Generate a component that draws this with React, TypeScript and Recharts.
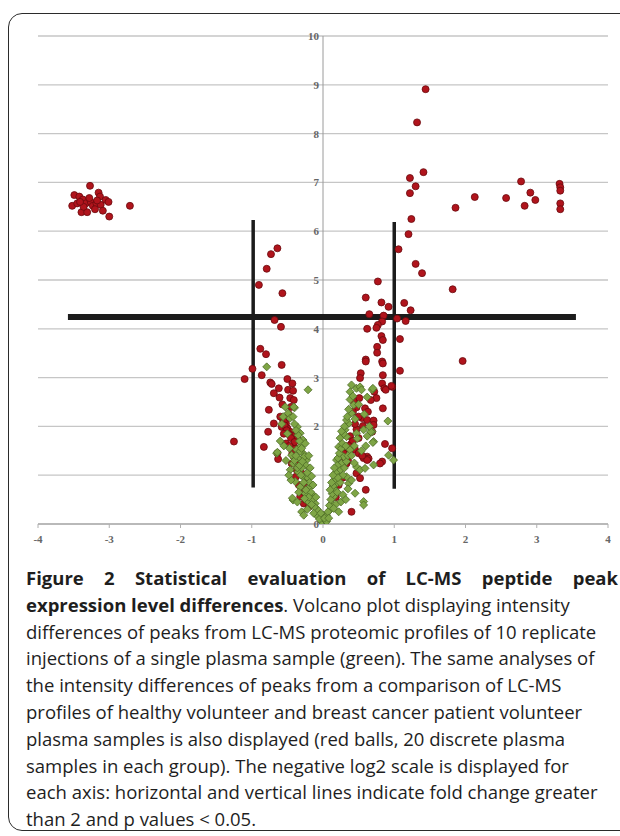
import React from 'react';
import { ScatterChart, Scatter, XAxis, YAxis, CartesianGrid, ReferenceLine } from 'recharts';

// ---------- data ----------
const xTicks = [-4, -3, -2, -1, 0, 1, 2, 3, 4];
const yTicks = [0, 1, 2, 3, 4, 5, 6, 7, 8, 9, 10];
// labels visible on the y axis (the "1" is hidden under the points in the original)
const yLabelTicks = [0, 2, 3, 4, 5, 6, 7, 8, 9, 10];
const xDomain: [number, number] = [-4, 4];
const yDomain: [number, number] = [0, 10];

// fold-change cutoffs (vertical lines) and p-value cutoff (horizontal line)
const foldCutoffs: { x: number; y1: number; y2: number }[] = [
  { x: -0.98, y1: 0.75, y2: 6.23 },
  { x: 1.0, y1: 0.72, y2: 6.19 },
];
const pCutoff = { y: 4.24, x1: -3.58, x2: 3.55 };

// healthy vs breast cancer (red balls): [log2 fold change, -log2 p]
const redBalls: [number, number][] = [
  [1.44, 8.91], [1.32, 8.23], [1.41, 7.21], [1.22, 7.09], [1.30, 6.92], [1.22, 6.78], [1.24, 6.25], [1.20, 5.94],
  [1.06, 5.63], [1.30, 5.33], [1.39, 5.14], [1.86, 6.48], [2.13, 6.70], [2.57, 6.68], [2.78, 7.02], [2.91, 6.79],
  [2.83, 6.52], [2.98, 6.64], [3.32, 6.97], [3.33, 6.90], [3.33, 6.83], [3.33, 6.57], [3.33, 6.45], [1.82, 4.81],
  [1.96, 3.34],
  [-2.71, 6.52], [-3.27, 6.93], [-3.49, 6.74], [-3.42, 6.71], [-3.37, 6.65], [-3.15, 6.79], [-3.13, 6.71],
  [-3.05, 6.64], [-3.01, 6.60], [-3.52, 6.52], [-3.45, 6.57], [-3.33, 6.57], [-3.26, 6.60], [-3.23, 6.52],
  [-3.18, 6.57], [-3.12, 6.54], [-3.39, 6.39], [-3.31, 6.39], [-3.20, 6.45], [-3.09, 6.42], [-3.00, 6.30],
  [-3.36, 6.50], [-3.17, 6.63], [-3.28, 6.68], [-3.41, 6.60],
  [-0.64, 5.65], [-0.73, 5.53], [-0.79, 5.23], [-0.90, 4.90], [-0.57, 4.73], [-0.68, 4.18], [-0.59, 4.04],
  [0.77, 4.97], [0.60, 4.64], [0.82, 4.54], [0.92, 4.45], [1.14, 4.53], [1.23, 4.38], [0.65, 4.30], [0.85, 4.27],
  [0.83, 4.15], [1.16, 4.16], [1.04, 4.21], [0.77, 4.08], [0.75, 4.02], [0.62, 4.00], [0.82, 3.85], [1.08, 3.79],
  [-0.88, 3.59], [-0.80, 3.48], [-0.99, 3.18], [-1.10, 2.97], [-0.86, 3.05], [-0.58, 3.26], [-0.50, 2.97],
  [-0.43, 2.88], [-0.74, 2.90], [-0.72, 2.87], [-0.62, 2.78], [-0.69, 2.68], [-0.61, 2.59], [-0.49, 2.75],
  [-0.42, 2.73], [-0.46, 2.58], [-0.41, 2.54], [-0.76, 2.34], [-0.56, 2.13], [-0.52, 2.06], [-0.50, 1.96],
  [-0.46, 1.89], [-0.42, 1.80], [-0.36, 1.74], [-0.58, 1.99], [-0.69, 2.06], [-0.77, 1.89], [-0.83, 1.58],
  [-1.25, 1.69], [-0.64, 1.45], [-0.63, 1.33], [-0.52, 1.65], [-0.39, 1.55], [-0.44, 1.24], [-0.37, 1.11],
  [-0.38, 0.97], [-0.30, 1.04], [-0.34, 0.80], [-0.28, 0.76], [-0.32, 0.56], [-0.27, 0.42], [-0.23, 0.87],
  [-0.55, 2.10], [-0.54, 2.02], [-0.51, 1.92], [-0.48, 1.84], [-0.45, 1.76], [-0.40, 1.68], [-0.55, 1.85],
  [-0.47, 1.60], [-0.43, 1.45], [-0.41, 1.38], [-0.35, 1.25], [-0.33, 1.15], [-0.26, 0.65], [-0.24, 0.50],
  [-0.20, 0.35], [-0.60, 2.20], [-0.48, 2.25], [-0.45, 2.40], [-0.57, 2.45],
  [1.08, 3.14], [0.84, 3.77], [0.76, 3.63], [0.76, 3.51], [0.83, 3.33], [0.84, 3.29], [0.60, 3.37], [0.60, 3.33],
  [0.53, 3.09], [0.52, 2.99], [0.84, 3.05], [0.83, 2.88], [0.97, 2.81], [0.86, 2.78], [0.88, 2.75], [0.72, 2.71],
  [0.75, 2.58], [0.67, 2.54], [0.51, 2.58], [0.43, 2.51], [0.47, 2.39], [0.59, 2.37], [0.63, 2.30], [0.55, 2.17],
  [0.62, 2.13], [0.84, 2.37], [0.71, 2.12], [0.71, 2.03], [0.56, 2.01], [0.47, 1.94], [0.69, 1.89], [0.50, 1.76],
  [0.40, 1.65], [0.33, 1.55], [0.45, 1.52], [0.29, 1.45], [0.62, 1.38], [0.57, 1.35], [0.64, 1.34], [0.83, 1.28],
  [0.80, 1.24], [0.97, 1.55], [0.47, 1.04], [0.52, 0.94], [0.40, 0.25], [0.62, 1.31], [0.33, 1.24], [0.87, 1.64],
  [0.96, 2.83], [0.38, 1.80], [0.42, 1.70], [0.36, 1.60], [0.30, 1.35], [0.26, 1.20], [0.50, 1.45], [0.55, 1.40],
  [0.45, 2.05], [0.50, 2.20], [0.42, 2.30], [0.35, 1.30], [0.28, 0.95], [0.22, 0.80], [0.60, 0.70], [0.18, 0.55],
];

// replicate injections of one plasma sample (green diamonds)
const greenDiamonds: [number, number][] = [
  [-0.79, 3.22], [-0.21, 2.75], [-0.53, 2.40], [-0.40, 2.38], [-0.49, 2.27], [-0.46, 2.17], [-0.36, 1.99],
  [-0.32, 1.86], [-0.28, 1.72], [-0.25, 1.65], [-0.32, 1.58], [-0.37, 1.52], [-0.44, 1.41], [-0.65, 1.45],
  [-0.28, 1.45], [-0.35, 1.35], [-0.23, 1.31], [-0.42, 1.24], [-0.46, 1.11], [-0.35, 1.07], [-0.28, 0.97],
  [-0.21, 0.94], [-0.39, 0.87], [-0.32, 0.76], [-0.18, 0.76], [-0.25, 0.63], [-0.14, 0.59], [-0.42, 0.49],
  [-0.21, 0.46], [-0.11, 0.42], [-0.30, 0.25], [-0.09, 0.25], [-0.07, 0.15], [-0.02, 0.05], [0.03, 0.08],
  [0.00, 0.18], [0.05, 0.18], [0.10, 0.29], [0.12, 0.42], [0.15, 0.56], [0.17, 0.70], [0.19, 0.83], [0.22, 0.97],
  [0.24, 1.11], [0.26, 1.24], [0.19, 1.31], [0.33, 1.28], [0.29, 1.38], [0.22, 1.58], [0.24, 1.76], [0.33, 1.79],
  [0.31, 1.93], [0.36, 2.06], [0.33, 2.13], [0.40, 2.27], [0.43, 2.44], [0.38, 2.71], [0.40, 2.85], [0.47, 2.78],
  [0.52, 2.81], [0.54, 2.75], [0.69, 2.75], [0.33, 0.97], [0.36, 0.83], [0.45, 0.63], [0.57, 0.46], [0.47, 1.17],
  [0.52, 1.11], [0.59, 1.14], [0.71, 1.69], [0.69, 1.89], [0.57, 1.93], [0.47, 1.86], [0.91, 2.11], [0.92, 1.41],
  [0.99, 1.31], [0.71, 1.21], [-0.64, 1.47], [-0.32, 1.49], [-0.56, 2.20], [-0.42, 2.20], [-0.41, 2.40],
  [0.70, 2.78], [0.67, 1.89], [0.70, 1.67], [0.57, 0.39], [-0.43, 0.53],
  [-0.05, 0.10], [-0.08, 0.30], [-0.12, 0.35], [-0.15, 0.50], [-0.17, 0.65], [-0.19, 0.85], [-0.22, 1.05],
  [-0.24, 1.20], [-0.26, 1.38], [-0.30, 1.55], [-0.33, 1.70], [-0.35, 1.82], [-0.38, 1.92], [-0.40, 2.05],
  [-0.30, 1.15], [-0.27, 0.85], [-0.24, 0.70], [-0.20, 0.55], [-0.16, 0.40], [-0.13, 0.22], [-0.36, 1.15],
  [-0.40, 1.30], [-0.31, 1.00], [-0.26, 0.52], [-0.34, 0.65], [-0.45, 0.90], [-0.48, 1.00], [-0.38, 1.40],
  [-0.33, 1.20], [-0.29, 1.28], [-0.50, 1.85], [-0.55, 1.60], [-0.60, 1.70], [-0.47, 1.55], [-0.52, 1.30],
  [-0.58, 2.05], [-0.16, 0.98], [-0.14, 0.80], [-0.18, 1.15], [-0.20, 1.40], [-0.10, 0.55], [-0.22, 0.30],
  [-0.27, 0.18], [-0.36, 0.45],
  [0.07, 0.25], [0.09, 0.38], [0.11, 0.50], [0.13, 0.62], [0.14, 0.78], [0.16, 0.90], [0.18, 1.05], [0.20, 1.20],
  [0.21, 1.35], [0.23, 1.45], [0.26, 1.55], [0.27, 1.65], [0.29, 1.85], [0.30, 2.00], [0.34, 2.20], [0.36, 2.35],
  [0.38, 2.55], [0.42, 2.62], [0.20, 0.65], [0.24, 0.85], [0.28, 1.00], [0.30, 1.15], [0.35, 1.40], [0.38, 1.52],
  [0.40, 1.40], [0.28, 0.60], [0.25, 0.45], [0.18, 0.40], [0.15, 0.32], [0.21, 0.95], [0.32, 1.60], [0.44, 1.60],
  [0.48, 1.75], [0.26, 1.90], [0.45, 2.15], [0.50, 2.45], [0.35, 0.72], [0.40, 0.90], [0.44, 1.25], [0.54, 1.50],
  [0.60, 1.60], [0.62, 1.80], [0.65, 2.00], [0.58, 2.25], [0.62, 2.60], [0.05, 0.05], [0.02, 0.12], [-0.03, 0.22],
  [0.08, 0.12], [0.14, 1.00], [0.12, 0.85], [0.16, 1.15], [0.10, 0.70], [0.22, 0.25], [0.32, 0.50],
];

// ---------- layout ----------
const CHART_W = 620;
const CHART_H = 560;
const Y_AXIS_W = 1;
const MARGIN = { top: 36, right: 12, bottom: 6, left: 37 };
const X_AXIS_H = 30;
const PLOT_LEFT = MARGIN.left + Y_AXIS_W;
const PLOT_W = CHART_W - PLOT_LEFT - MARGIN.right;
const ZERO_X = PLOT_LEFT + ((0 - xDomain[0]) / (xDomain[1] - xDomain[0])) * PLOT_W;

const tickFont = { fontFamily: 'Liberation Serif, serif', fontSize: 11, fontWeight: 700 as const, fill: '#666666' };

const redData = redBalls.map(([x, y]) => ({ x, y }));
const greenData = greenDiamonds.map(([x, y]) => ({ x, y }));

const Ball = (p: any) => (
  <circle cx={p.cx} cy={p.cy} r={3.5} fill="#b0141c" stroke="#6a0a0e" strokeWidth={0.8} />
);

const Diamond = (p: any) => {
  const s = 4;
  return (
    <polygon
      points={`${p.cx},${p.cy - s} ${p.cx + s},${p.cy} ${p.cx},${p.cy + s} ${p.cx - s},${p.cy}`}
      fill="#7ea545"
      stroke="#4e6c27"
      strokeWidth={0.8}
    />
  );
};

const renderYTick = (p: any) =>
  yLabelTicks.includes(p.payload.value) ? (
    <text
      key={`yt-${p.payload.value}`}
      x={ZERO_X - 4}
      y={p.y}
      textAnchor="end"
      dominantBaseline="central"
      {...tickFont}
    >
      {p.payload.value}
    </text>
  ) : (
    <g key={`yt-${p.payload.value}`} />
  );

const caption: { bold?: string; text: string; justify?: boolean }[] = [
  { bold: 'Figure 2 Statistical evaluation of LC-MS peptide peak', text: '', justify: true },
  { bold: 'expression level differences', text: '. Volcano plot displaying intensity' },
  { text: 'differences of peaks from LC-MS proteomic profiles of 10 replicate' },
  { text: 'injections of a single plasma sample (green). The same analyses of' },
  { text: 'the intensity differences of peaks from a comparison of LC-MS' },
  { text: 'profiles of healthy volunteer and breast cancer patient volunteer' },
  { text: 'plasma samples is also displayed (red balls, 20 discrete plasma' },
  { text: 'samples in each group). The negative log2 scale is displayed for' },
  { text: 'each axis: horizontal and vertical lines indicate fold change greater' },
  { text: 'than 2 and p values < 0.05.' },
];

export default function App() {
  return (
    <div style={{ position: 'fixed', left: 0, top: 0, width: 620, height: 836, overflow: 'hidden', background: '#fff' }}>
      <div
        style={{
          position: 'absolute',
          left: 8,
          top: 13,
          width: 650,
          height: 818,
          border: '1.6px solid #2b2b2b',
          borderRadius: 14,
          boxSizing: 'border-box',
        }}
      />
      <div style={{ position: 'absolute', left: 0, top: 0 }}>
        <ScatterChart width={CHART_W} height={CHART_H} margin={MARGIN}>
          <CartesianGrid vertical={false} stroke="#c6c6c6" strokeWidth={1.3} />
          <XAxis
            type="number"
            dataKey="x"
            domain={xDomain}
            ticks={xTicks}
            allowDataOverflow
            height={X_AXIS_H}
            axisLine={{ stroke: '#b0b0b0', strokeWidth: 1.3 }}
            tickLine={{ stroke: '#b0b0b0' }}
            tickSize={4}
            tickMargin={7}
            tick={tickFont}
            interval={0}
          />
          <YAxis
            type="number"
            dataKey="y"
            domain={yDomain}
            ticks={yTicks}
            allowDataOverflow
            width={Y_AXIS_W}
            axisLine={false}
            tickLine={false}
            tick={renderYTick}
            interval={0}
          />
          <ReferenceLine x={0} stroke="#9a9a9a" strokeWidth={1} />
          <Scatter data={redData} shape={Ball} isAnimationActive={false} />
          <Scatter data={greenData} shape={Diamond} isAnimationActive={false} />
          {foldCutoffs.map((c, i) => (
            <ReferenceLine
              key={i}
              segment={[{ x: c.x, y: c.y1 }, { x: c.x, y: c.y2 }]}
              stroke="#1c1c1c"
              strokeWidth={3.5}
            />
          ))}
          <ReferenceLine
            segment={[{ x: pCutoff.x1, y: pCutoff.y }, { x: pCutoff.x2, y: pCutoff.y }]}
            stroke="#1c1c1c"
            strokeWidth={6}
          />
        </ScatterChart>
      </div>
      <div
        style={{
          position: 'absolute',
          left: 26,
          top: 565,
          width: 592,
          fontFamily: '"Open Sans", sans-serif',
          fontSize: 18.5,
          lineHeight: '26.8px',
          color: '#1e1e1e',
        }}
      >
        {caption.map((l, i) => (
          <div
            key={i}
            style={{
              whiteSpace: l.justify ? 'normal' : 'nowrap',
              textAlign: l.justify ? 'justify' : 'left',
              textAlignLast: l.justify ? 'justify' : 'auto',
            }}
          >
            {l.bold && <b style={{ fontWeight: 700 }}>{l.bold}</b>}
            {l.text}
          </div>
        ))}
      </div>
    </div>
  );
}
